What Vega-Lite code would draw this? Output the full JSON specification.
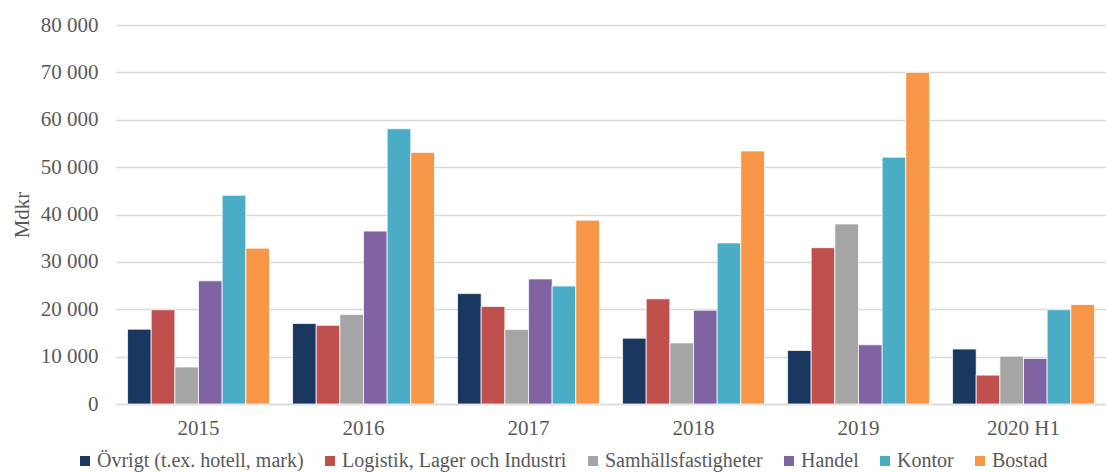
{
  "$schema": "https://vega.github.io/schema/vega-lite/v6.json",
  "autosize": {"type": "none"},
  "width": 990,
  "height": 379,
  "padding": {"left": 116, "top": 25, "right": 0, "bottom": 68},
  "background": "white",
  "data": {"values": [
    {"year": "2015", "cat": "Övrigt (t.ex. hotell, mark)", "value": 15800},
    {"year": "2015", "cat": "Logistik, Lager och Industri", "value": 19900},
    {"year": "2015", "cat": "Samhällsfastigheter", "value": 7800},
    {"year": "2015", "cat": "Handel", "value": 26000},
    {"year": "2015", "cat": "Kontor", "value": 44050},
    {"year": "2015", "cat": "Bostad", "value": 32900},
    {"year": "2016", "cat": "Övrigt (t.ex. hotell, mark)", "value": 17000},
    {"year": "2016", "cat": "Logistik, Lager och Industri", "value": 16600},
    {"year": "2016", "cat": "Samhällsfastigheter", "value": 18900},
    {"year": "2016", "cat": "Handel", "value": 36500},
    {"year": "2016", "cat": "Kontor", "value": 58100},
    {"year": "2016", "cat": "Bostad", "value": 53100},
    {"year": "2017", "cat": "Övrigt (t.ex. hotell, mark)", "value": 23300},
    {"year": "2017", "cat": "Logistik, Lager och Industri", "value": 20600},
    {"year": "2017", "cat": "Samhällsfastigheter", "value": 15700},
    {"year": "2017", "cat": "Handel", "value": 26400},
    {"year": "2017", "cat": "Kontor", "value": 24900},
    {"year": "2017", "cat": "Bostad", "value": 38800},
    {"year": "2018", "cat": "Övrigt (t.ex. hotell, mark)", "value": 13900},
    {"year": "2018", "cat": "Logistik, Lager och Industri", "value": 22200},
    {"year": "2018", "cat": "Samhällsfastigheter", "value": 12900},
    {"year": "2018", "cat": "Handel", "value": 19800},
    {"year": "2018", "cat": "Kontor", "value": 34000},
    {"year": "2018", "cat": "Bostad", "value": 53400},
    {"year": "2019", "cat": "Övrigt (t.ex. hotell, mark)", "value": 11300},
    {"year": "2019", "cat": "Logistik, Lager och Industri", "value": 33000},
    {"year": "2019", "cat": "Samhällsfastigheter", "value": 38000},
    {"year": "2019", "cat": "Handel", "value": 12500},
    {"year": "2019", "cat": "Kontor", "value": 52100},
    {"year": "2019", "cat": "Bostad", "value": 70000},
    {"year": "2020 H1", "cat": "Övrigt (t.ex. hotell, mark)", "value": 11600},
    {"year": "2020 H1", "cat": "Logistik, Lager och Industri", "value": 6100},
    {"year": "2020 H1", "cat": "Samhällsfastigheter", "value": 10100},
    {"year": "2020 H1", "cat": "Handel", "value": 9600},
    {"year": "2020 H1", "cat": "Kontor", "value": 19900},
    {"year": "2020 H1", "cat": "Bostad", "value": 21000}
  ]},
  "mark": {"type": "bar", "stroke": "white", "strokeWidth": 0.75},
  "encoding": {
    "x": {
      "field": "year", "type": "nominal", "sort": null,
      "scale": {"paddingInner": 0.14, "paddingOuter": 0.07},
      "axis": {
        "title": null, "labelAngle": 0, "ticks": false,
        "domainColor": "#d9d9d9", "domainWidth": 1.5,
        "labelFont": "Liberation Serif", "labelFontSize": 21, "labelColor": "#595959",
        "labelPadding": 13
      }
    },
    "xOffset": {
      "field": "cat", "type": "nominal",
      "scale": {"domain": ["Övrigt (t.ex. hotell, mark)", "Logistik, Lager och Industri", "Samhällsfastigheter", "Handel", "Kontor", "Bostad"], "paddingInner": 0, "paddingOuter": 0}
    },
    "y": {
      "field": "value", "type": "quantitative",
      "scale": {"domain": [0, 80000], "nice": false},
      "axis": {
        "title": "Mdkr", "titleFont": "Liberation Serif", "titleFontSize": 21, "titleFontWeight": "normal",
        "titleColor": "#595959", "titlePadding": 8,
        "values": [0, 10000, 20000, 30000, 40000, 50000, 60000, 70000, 80000],
        "labelExpr": "replace(format(datum.value, ',d'), ',', ' ')",
        "labelFont": "Liberation Serif", "labelFontSize": 21, "labelColor": "#595959",
        "labelPadding": 18, "ticks": false, "domain": false,
        "gridColor": "#d9d9d9", "gridWidth": 1.5
      }
    },
    "color": {
      "field": "cat", "type": "nominal",
      "scale": {
        "domain": ["Övrigt (t.ex. hotell, mark)", "Logistik, Lager och Industri", "Samhällsfastigheter", "Handel", "Kontor", "Bostad"],
        "range": ["#1a3760", "#c0504d", "#a5a5a5", "#8064a2", "#4bacc6", "#f79646"]
      },
      "legend": {
        "title": null, "orient": "none", "legendX": -41, "legendY": 426,
        "direction": "horizontal", "symbolType": "square", "symbolSize": 100,
        "symbolStrokeWidth": 0,
        "labelFont": "Liberation Serif", "labelFontSize": 20, "labelColor": "#595959",
        "labelOffset": 2, "columnPadding": 16, "labelLimit": 400
      }
    }
  },
  "config": {"view": {"stroke": null}}
}
